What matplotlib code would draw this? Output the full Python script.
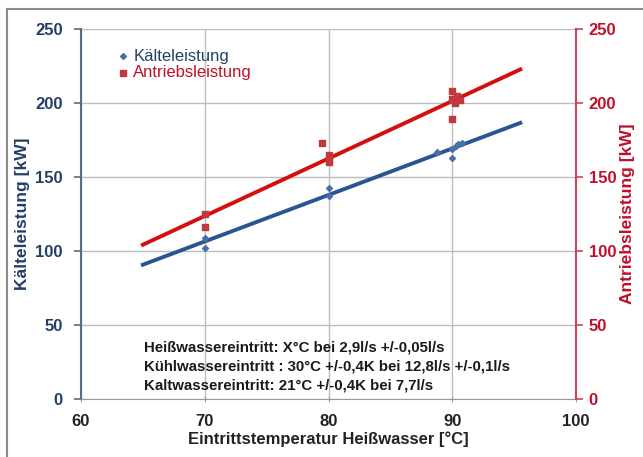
import numpy as np
import matplotlib
matplotlib.use("Agg")
import matplotlib.pyplot as plt
from matplotlib.patches import Rectangle

# Data
kaelte_x = [70, 70, 80, 80, 88.8, 90, 90, 90.3, 90.5, 90.8]
kaelte_y = [102, 109, 142.5, 137, 167, 163, 169, 171, 172, 173]
antrieb_x = [70, 70, 79.5, 80, 80, 80, 90, 90, 90.2, 90.4, 90.6, 90]
antrieb_y = [116, 125, 173, 165, 162, 160, 208, 203, 200, 205, 202, 189]
trend_range = [65, 95.5]
x_ticks = [60, 70, 80, 90, 100]
y_ticks = [0, 50, 100, 150, 200, 250]
notes = ["Heißwassereintritt: X°C bei 2,9l/s +/-0,05l/s",
         "Kühlwassereintritt : 30°C +/-0,4K bei 12,8l/s +/-0,1l/s",
         "Kaltwassereintritt: 21°C +/-0,4K bei 7,7l/s"]

plt.rcParams['font.family'] = ['Liberation Sans', 'DejaVu Sans']

BLUE_LINE = '#2a5592'
BLUE_MK = '#4a6fa8'
BLUE_TXT = '#243f66'
RED_LINE = '#d40f0f'
RED_MK = '#c0393f'
RED_TXT = '#c0102a'

fig = plt.figure(figsize=(6.43, 4.57), dpi=100)
fig.patches.append(Rectangle((7/643, -0.05), 1.2, 1 - 9/457 + 0.05, transform=fig.transFigure,
                             fill=False, edgecolor='#8c8c8c', linewidth=1.5))
ax = fig.add_axes([81/643, 1 - 399/457, (576 - 81)/643, (399 - 29)/457])
ax2 = ax.twinx()

ax.set_xlim(60, 100)
ax.set_ylim(0, 250)
ax2.set_ylim(0, 250)
ax.set_xticks(x_ticks)
ax.set_yticks(y_ticks)
ax2.set_yticks(y_ticks)
ax.grid(True, color='#bdbdbd', linewidth=1)
ax.set_axisbelow(True)

# trendlines
tx = np.array(trend_range)
kb = np.polyfit(kaelte_x, kaelte_y, 1)
ab = np.polyfit(antrieb_x, antrieb_y, 1)
ax.plot(tx, np.polyval(kb, tx), color=BLUE_LINE, lw=2.8, zorder=3)
ax2.plot(tx, np.polyval(ab, tx), color=RED_LINE, lw=2.8, zorder=3)

ax.scatter(kaelte_x, kaelte_y, marker='D', s=9, color=BLUE_MK, zorder=4, label='Kälteleistung')
ax2.scatter(antrieb_x, antrieb_y, marker='s', s=14, color=RED_MK, zorder=4, label='Antriebsleistung')

for s in ['top', 'right', 'left', 'bottom']:
    ax.spines[s].set_visible(False)
    ax2.spines[s].set_visible(False)
ax.spines['left'].set_visible(True)
ax.spines['left'].set_color('#5a6b85')
ax.spines['left'].set_linewidth(1.5)
ax.spines['bottom'].set_visible(True)
ax.spines['bottom'].set_color('#9a9a9a')
ax2.spines['right'].set_visible(True)
ax2.spines['right'].set_color('#c8465a')
ax2.spines['right'].set_linewidth(1.5)

ax.tick_params(axis='y', colors=BLUE_TXT, labelsize=12, length=5, width=1.2, pad=8, color='#5a6b85')
ax.tick_params(axis='x', colors='#222222', labelsize=12, length=5, direction='inout', color='#9a9a9a', pad=8)
ax2.tick_params(axis='y', colors=RED_TXT, labelsize=12, length=5, width=1.2, pad=4, color='#c8465a')
for lab in ax.get_yticklabels() + ax.get_xticklabels() + ax2.get_yticklabels():
    lab.set_fontweight('bold')
ax.set_xticklabels([str(v) for v in x_ticks], fontweight='bold')

ax.set_ylabel('Kälteleistung [kW]', color=BLUE_TXT, fontsize=12.5, fontweight='bold', labelpad=4)
ax2.set_ylabel('Antriebsleistung [kW]', color=RED_TXT, fontsize=12.5, fontweight='bold', labelpad=3)
ax.set_xlabel('Eintrittstemperatur Heißwasser [°C]', color='#222222', fontsize=12, fontweight='bold', labelpad=2)

# legend
h1, l1 = ax.get_legend_handles_labels()
h2, l2 = ax2.get_legend_handles_labels()
leg = ax2.legend(h1 + h2, l1 + l2, loc='upper left', bbox_to_anchor=(0.065, 0.965), frameon=False,
                 fontsize=12, handlelength=0.4, handletextpad=0.4, labelspacing=0.1, borderaxespad=0)
for t, c in zip(leg.get_texts(), [BLUE_TXT, RED_TXT]):
    t.set_color(c)

for i, n in enumerate(notes):
    ax2.text(0.128, 0.14 - i * 0.052, n, transform=ax.transAxes, fontsize=10.8, fontweight='bold',
             color='#1a1a1a', va='center', ha='left')

fig.savefig('out.png', dpi=100)
